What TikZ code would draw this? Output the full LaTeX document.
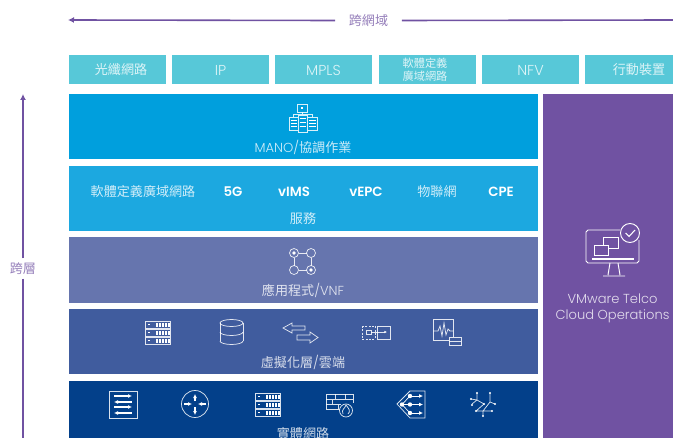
\documentclass[tikz,border=0pt]{standalone}
\usepackage{fontspec}
\setmainfont{Poppins}[UprightFont=* Light,BoldFont=* SemiBold]
\newfontfamily\cjk{Noto Sans CJK TC}
\usetikzlibrary{arrows.meta}
\definecolor{topcol}{HTML}{57C8D8}
\definecolor{manocol}{HTML}{009FDD}
\definecolor{svccol}{HTML}{1CA8E0}
\definecolor{appcol}{HTML}{6675AE}
\definecolor{virtcol}{HTML}{405C9E}
\definecolor{physcol}{HTML}{03408A}
\definecolor{opscol}{HTML}{7052A2}
\tikzset{
  topbox/.style={fill=topcol,minimum width=73pt,minimum height=22pt,inner sep=0pt},
  toptext/.style={text=white,text opacity=.8,font=\fontsize{9.8}{10}\selectfont,inner sep=0pt},
  toplatin/.style={toptext,font=\fontsize{10.8}{11}\selectfont},
  layerbox/.style={minimum width=351.75pt,minimum height=49pt,inner sep=0pt},
  caption/.style={text=white,text opacity=.8,font=\fontsize{9.8}{11}\selectfont,inner sep=0pt},
  svcitem/.style={text=white,font=\fontsize{10}{11}\selectfont,inner sep=0pt},
  spanlabel/.style={text=opscol,text opacity=.75,font=\fontsize{9.8}{11}\selectfont,inner sep=0pt},
  spanline/.style={draw=opscol,line width=1.2pt},
  icon/.style={draw=white,draw opacity=.85,line width=.55pt},
  server/.pic={
    \foreach \r in {0,8,16} {
      \draw[icon] (0,\r) rectangle (25,\r+7);
      \fill[white] (3,\r+3) rectangle (4.5,\r+4);
      \foreach \k in {11,14,17,20,23} \fill[white] (\k,\r+1.5) rectangle (\k+1.8,\r+5.5);
    }
  },
  lined/.pic={
    \draw[icon,fill=manocol] (0,0) rectangle (9.5,13);
    \foreach \r in {3,6,9} \draw[white,line width=.6pt] (1.5,\r) -- (8,\r);
  }
}
\begin{document}
\begin{tikzpicture}[x=0.75pt,y=-0.75pt,>={Latex[length=4.5pt,width=4.5pt]}]
  \useasboundingbox (0,0) rectangle (673,438);
  \clip (0,0) rectangle (673,438);
  % span labels
  \node[spanlabel] (acrossdomain) at (368.5,20.5) {\cjk 跨網域};
  \node[spanlabel] (acrosslayer) at (23,268.5) {\cjk 跨層};
  \coordinate (domainleft) at (68,20);
  \coordinate (domainright) at (673,20);
  \coordinate (layertop) at (23,94);
  \coordinate (layerbottom) at (23,438);
  \draw[spanline,->] ([xshift=-25pt]acrossdomain.center) -- (domainleft);
  \draw[spanline] ([xshift=25pt]acrossdomain.center) -- (domainright);
  \draw[spanline,->] (acrosslayer.north) ++(0,-4) -- (layertop);
  \draw[spanline] (acrosslayer.south) ++(0,4) -- (layerbottom);
  % top row
  \node[topbox] (optical) at (117.5,69.5) {};
  \node[topbox] (ip) at (220.5,69.5) {};
  \node[topbox] (mpls) at (323.5,69.5) {};
  \node[topbox] (sdwantop) at (427.5,69.5) {};
  \node[topbox] (nfv) at (530.5,69.5) {};
  \fill[topcol] (585,55) rectangle (673,84);
  \node[toptext] (opticaltext) at (121,70) {\cjk 光纖網路};
  \node[toplatin] (iptext) at (220.5,70) {IP};
  \node[toplatin] (mplstext) at (323.5,70) {MPLS};
  \node[toptext,font=\fontsize{8.4}{9.6}\selectfont,align=center] (sdwantoptext) at (425,69.5) {\cjk 軟體定義\\\cjk 廣域網路};
  \node[toplatin] (nfvtext) at (530.5,70) {NFV};
  \node[toptext] (mobile) at (639,70) {\cjk 行動裝置};
  % layers
  \node[layerbox,fill=manocol] (mano) at (303.5,126.5) {};
  \node[layerbox,fill=svccol] (services) at (303.5,198.5) {};
  \node[layerbox,fill=appcol] (apps) at (303.5,270) {};
  \node[layerbox,fill=virtcol] (virt) at (303.5,341.5) {};
  \fill[physcol] (69,381) rectangle (538,438);
  \fill[opscol] (543,94) rectangle (673,438);
  % captions
  \node[caption] (manotext) at (303,147.5) {MANO/{\cjk 協調作業}};
  \node[caption] (svctext) at (303,219) {\cjk 服務};
  \node[caption] (apptext) at (303,290.5) {{\cjk 應用程式}/VNF};
  \node[caption] (virttext) at (303,362.5) {{\cjk 虛擬化層}/{\cjk 雲端}};
  \node[caption] (phystext) at (303,433) {\cjk 實體網路};
  \node[caption,align=center,font=\fontsize{9.8}{12}\selectfont] (opstext) at (612.5,308) {VMware Telco\\Cloud Operations};
  % service items
  \node[caption] (sdwan) at (143,191.5) {\cjk 軟體定義廣域網路};
  \node[svcitem] (fiveg) at (233,191.5) {\textbf{5G}};
  \node[svcitem] (vims) at (294,191.5) {\textbf{vIMS}};
  \node[svcitem] (vepc) at (366,191.5) {\textbf{vEPC}};
  \node[caption] (iot) at (437,191.5) {\cjk 物聯網};
  \node[svcitem] (cpe) at (501,191.5) {\textbf{CPE}};
  % mano icon
  \draw[icon] (297,104) rectangle (307,112);
  \fill[white] (301,107) rectangle (303,109);
  \draw[icon] (302,112) -- (302,115) (293.5,117) |- (312,114) -- (312,117);
  \pic at (289,117) {lined};
  \pic at (307.5,117) {lined};
  \pic[yscale=1.3] at (298,115) {lined};
  % vnf icon
  \draw[icon] (298.5,253) -- (306.5,253) (311,257.5) -- (311,265.5) (306.5,270) -- (298.5,270) (294,265.5) -- (294,257.5);
  \foreach \p in {(294,253),(311,253),(294,270),(311,270)} \draw[icon] \p circle (4.5);
  \fill[white] (294,253) circle (1.8) (311,270) circle (1.8);
  % virtual layer icons
  \pic at (145,321) {server};
  \draw[icon] (231.5,323) ellipse (11.5 and 3.5);
  \draw[icon] (220,323) -- (220,341) (243,323) -- (243,341);
  \foreach \h in {332,341} \draw[icon] (220,\h) arc[start angle=180,end angle=0,x radius=11.5,y radius=3.5];
  \draw[icon] (305,326) -- (292,326) -- (292,323) -- (283,328) -- (292,333) -- (292,330) -- (305,330) -- cycle;
  \draw[icon] (297,335) -- (310,335) -- (310,332) -- (318,337.5) -- (310,343) -- (310,340) -- (297,340) -- cycle;
  \draw[icon,dashed,dash pattern=on 1.5pt off 1pt] (362,326) rectangle (375,339);
  \draw[icon] (377,326) rectangle (390,339);
  \draw[icon] (366,330) rectangle (371,334);
  \draw[icon,-{Latex[length=2pt,width=2pt]}] (371,332) -- (387,332);
  \draw[icon] (453,337) -- (453,319) -- (433,319) -- (433,340) -- (449,340);
  \draw[icon] (449,337) rectangle (461,345);
  \draw[icon] (449,341) -- (461,341);
  \draw[icon] (433,331) -- (438,331) -- (440,326) -- (442,336) -- (444,323) -- (446,335) -- (448,329) -- (450,331) -- (453,331);
  % physical layer icons
  \draw[icon,line width=.7pt] (109,391) rectangle (137,418);
  \begin{scope}[-{Latex[length=3pt,width=3pt]},white,line width=.8pt]
    \draw (114,396) -- (132,396);
    \draw (132,402) -- (114,402);
    \draw (114,407) -- (132,407);
    \draw (132,413) -- (114,413);
    \draw (195,401) -- (195,394);
    \draw (195,407) -- (195,415);
    \draw (184,404) -- (192,404);
    \draw (206,404) -- (198,404);
  \end{scope}
  \draw[icon] (195,404) circle (13.5);
  \pic at (255,393) {server};
  \draw[icon] (340,409) -- (326,409) -- (326,394) -- (353,394) -- (353,403);
  \draw[icon] (326,399) -- (353,399) (326,404) -- (341,404) (335,394) -- (335,399) (345,394) -- (345,399) (332,399) -- (332,404) (338,404) -- (338,409);
  \draw[icon,fill=physcol] (346,410.5) circle (6.5);
  \draw[icon] (343,414) .. controls (341,409) and (345,409) .. (346,405) .. controls (349,409) and (351,411) .. (348,414);
  \draw[icon] (397,404) -- (410,391) -- (425,391) -- (425,418) -- (410,418) -- cycle;
  \draw[white,line width=.5pt] (402,404.5) -- (410,396) (402,404.5) -- (410,413);
  \begin{scope}[-{Latex[length=3pt,width=3pt]},white,line width=.6pt]
    \draw (410,396) -- (423,396);
    \draw (402,404.5) -- (423,404.5);
    \draw (410,413) -- (423,413);
  \end{scope}
  \fill[white] (410,396) circle (2.2) (402,404.5) circle (2.2) (410,404.5) circle (2.2) (410,413) circle (2.2);
  \draw[icon] (477,393) -- (477,400) -- (471,399) (477,400) -- (484,404) -- (476,411) (472,404) -- (477,400) (490,393) -- (490,402) -- (495,404) (490,402) -- (483,411) -- (483,416) (476,411) -- (483,411) -- (492,411);
  \foreach \p in {(477,393),(490,393),(471,399),(472,405),(495,404),(484,404),(476,411),(483,416),(492,411)} \fill[white] \p circle (1.2);
  % ops icon
  \draw[white,line width=.7pt] (620,230) -- (588,230) -- (586,232) -- (586,261) -- (588,263) -- (637,263) -- (639,261) -- (639,240);
  \draw[white,line width=1pt] (592,259) -- (634,259);
  \draw[white,line width=.7pt] (610,263) -- (608,275) (618,263) -- (620,275) (603,276) -- (625,276);
  \draw[white,line width=.7pt] (603,245) -- (603,237) -- (618,237) -- (618,248) -- (608,248);
  \draw[white,line width=.7pt] (594,245) rectangle (608,255);
  \draw[white,line width=.7pt] (630,233) circle (9.5);
  \draw[white,line width=.8pt] (625.5,233) -- (629,236.5) -- (635,230);
\end{tikzpicture}
\end{document}
